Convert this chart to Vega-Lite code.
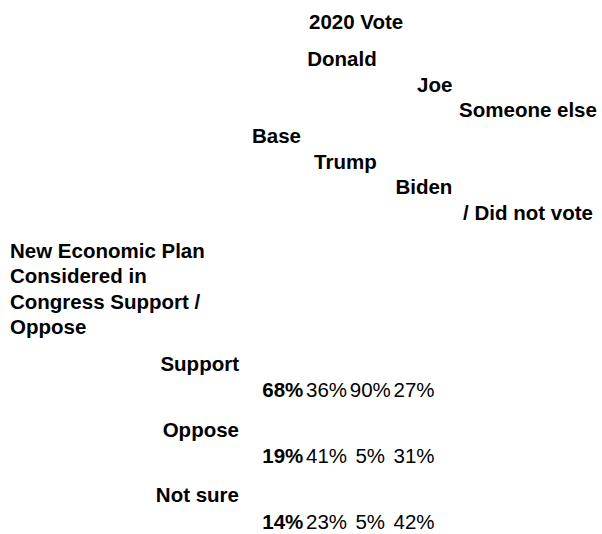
{
  "$schema": "https://vega.github.io/schema/vega-lite/v6.json",
  "width": 602,
  "height": 534,
  "autosize": {"type": "none"},
  "padding": 0,
  "background": "white",
  "config": {
    "view": {"stroke": null},
    "text": {"font": "Liberation Sans", "fontSize": 20.5, "color": "black"}
  },
  "datasets": {
    "results": [
      {"response": "Support", "column": "Base", "share": 0.68},
      {"response": "Support", "column": "Donald Trump", "share": 0.36},
      {"response": "Support", "column": "Joe Biden", "share": 0.90},
      {"response": "Support", "column": "Someone else / Did not vote", "share": 0.27},
      {"response": "Oppose", "column": "Base", "share": 0.19},
      {"response": "Oppose", "column": "Donald Trump", "share": 0.41},
      {"response": "Oppose", "column": "Joe Biden", "share": 0.05},
      {"response": "Oppose", "column": "Someone else / Did not vote", "share": 0.31},
      {"response": "Not sure", "column": "Base", "share": 0.14},
      {"response": "Not sure", "column": "Donald Trump", "share": 0.23},
      {"response": "Not sure", "column": "Joe Biden", "share": 0.05},
      {"response": "Not sure", "column": "Someone else / Did not vote", "share": 0.42}
    ],
    "headers": [
      {"column": "Donald Trump", "line": "Donald"},
      {"column": "Joe Biden", "line": "Joe"},
      {"column": "Someone else / Did not vote", "line": "Someone else"},
      {"column": "Base", "line": "Base"},
      {"column": "Donald Trump", "line": "Trump"},
      {"column": "Joe Biden", "line": "Biden"},
      {"column": "Someone else / Did not vote", "line": "/ Did not vote"}
    ],
    "spanner": [{"title": "2020 Vote"}],
    "rowTitle": [{"title": "New Economic Plan\nConsidered in\nCongress Support /\nOppose"}]
  },
  "layer": [
    {
      "data": {"name": "spanner"},
      "mark": {"type": "text", "fontWeight": "bold", "align": "left", "baseline": "middle"},
      "encoding": {
        "x": {"field": "title", "type": "nominal", "axis": null, "scale": {"type": "point", "align": 0.5133}},
        "y": {"field": "title", "type": "nominal", "axis": null, "scale": {"type": "point", "align": 0.0425}},
        "text": {"field": "title"}
      }
    },
    {
      "data": {"name": "headers"},
      "mark": {"type": "text", "fontWeight": "bold", "baseline": "middle",
               "align": {"expr": "datum.column === 'Someone else / Did not vote' ? 'center' : 'right'"}},
      "encoding": {
        "x": {"field": "column", "type": "nominal", "axis": null,
              "scale": {"type": "point", "domain": ["Base", "Donald Trump", "Joe Biden", "Someone else / Did not vote"], "padding": 0, "range": [301, 528]}},
        "y": {"field": "line", "type": "nominal", "axis": null,
              "scale": {"type": "point", "domain": ["Donald", "Joe", "Someone else", "Base", "Trump", "Biden", "/ Did not vote"], "padding": 0, "range": [60, 214]}},
        "text": {"field": "line"}
      }
    },
    {
      "data": {"name": "rowTitle"},
      "mark": {"type": "text", "fontWeight": "bold", "align": "left", "baseline": "top", "lineBreak": "\n", "lineHeight": 25.4},
      "encoding": {
        "x": {"field": "title", "type": "nominal", "axis": null, "scale": {"type": "point", "align": 0.0166}},
        "y": {"field": "title", "type": "nominal", "axis": null, "scale": {"type": "point", "align": 0.4532}},
        "text": {"field": "title"}
      }
    },
    {
      "data": {"name": "results"},
      "transform": [{"filter": "datum.column === 'Base'"}],
      "mark": {"type": "text", "fontWeight": "bold", "align": "right", "baseline": "middle"},
      "encoding": {
        "x": {"datum": "Response", "type": "nominal", "axis": null,
              "scale": {"type": "point", "domain": ["Response", "Base", "Donald Trump", "Joe Biden", "Someone else / Did not vote"], "padding": 0, "range": [239, 414]}},
        "y": {"field": "response", "type": "nominal", "axis": null,
              "scale": {"type": "point", "domain": ["Support", "Oppose", "Not sure"], "padding": 0, "range": [365, 496]}},
        "text": {"field": "response"}
      }
    },
    {
      "data": {"name": "results"},
      "transform": [{"filter": "datum.column === 'Base'"}],
      "mark": {"type": "text", "fontWeight": "bold", "align": "center", "baseline": "middle"},
      "encoding": {
        "x": {"field": "column", "type": "nominal", "axis": null,
              "scale": {"type": "point", "domain": ["Response", "Base", "Donald Trump", "Joe Biden", "Someone else / Did not vote"], "padding": 0, "range": [239, 414]}},
        "y": {"field": "response", "type": "nominal", "axis": null,
              "scale": {"type": "point", "domain": ["Support", "Oppose", "Not sure"], "padding": 0, "range": [391, 523]}},
        "text": {"field": "share", "type": "quantitative", "format": ".0%"}
      }
    },
    {
      "data": {"name": "results"},
      "transform": [{"filter": "datum.column !== 'Base'"}],
      "mark": {"type": "text", "fontWeight": "normal", "align": "center", "baseline": "middle"},
      "encoding": {
        "x": {"field": "column", "type": "nominal", "axis": null,
              "scale": {"type": "point", "domain": ["Response", "Base", "Donald Trump", "Joe Biden", "Someone else / Did not vote"], "padding": 0, "range": [239, 414]}},
        "y": {"field": "response", "type": "nominal", "axis": null,
              "scale": {"type": "point", "domain": ["Support", "Oppose", "Not sure"], "padding": 0, "range": [391, 523]}},
        "text": {"field": "share", "type": "quantitative", "format": ".0%"}
      }
    }
  ],
  "resolve": {"scale": {"x": "independent", "y": "independent"}}
}
